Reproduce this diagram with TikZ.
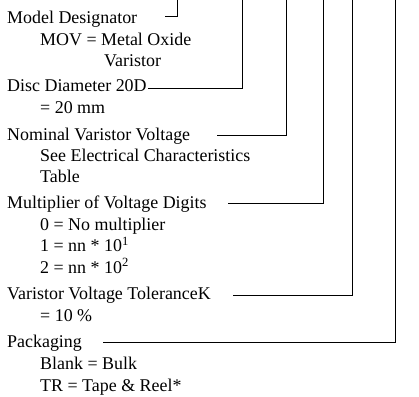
\documentclass[tikz,border=0pt]{standalone}
\usepackage{fontspec}
\setmainfont{Liberation Serif}

\begin{document}
\begin{tikzpicture}[
        x=1bp, y=-1bp,
        txt/.style={
        anchor=base west,
        inner sep=0pt,
        font=\fontsize{18}{21}\selectfont},
        lead/.style={draw=black, line width=0.8pt},
        ]

        \useasboundingbox (0,0) rectangle (419,397);

        % field texts
        \node (md)  [txt] at (7,23.5)  {Model Designator};
        \node (md1) [txt] at (40,45)   {MOV = Metal Oxide};
        \node (md2) [txt] at (104,66.5){Varistor};

        \node (dd)  [txt] at (7,91.5)  {Disc Diameter 20D};
        \node (dd1) [txt] at (40,113)  {= 20 mm};

        \node (nv)  [txt] at (7,140)   {Nominal Varistor Voltage};
        \node (nv1) [txt] at (40,161)  {See Electrical Characteristics};
        \node (nv2) [txt] at (40,182)  {Table};

        \node (mu)  [txt] at (7,208)   {Multiplier of Voltage Digits};
        \node (mu1) [txt] at (40,230)  {0 = No multiplier};
        \node (mu2) [txt] at (40,251.5){1 = nn * 10\textsuperscript{1}};
        \node (mu3) [txt] at (40,273)  {2 = nn * 10\textsuperscript{2}};

        \node (vt)  [txt] at (7,299)   {Varistor Voltage ToleranceK};
        \node (vt1) [txt] at (40,321)  {= 10 \%};

        \node (pk)  [txt] at (7,347)   {Packaging};
        \node (pk1) [txt] at (40,369)  {Blank = Bulk};
        \node (pk2) [txt] at (40,391)  {TR = Tape \& Reel*};

        % leader lines up to the part number
        \coordinate (s1) at (165,16.7);   \coordinate (t1) at (177,0);
        \coordinate (s2) at (148,88.3);   \coordinate (t2) at (242,0);
        \coordinate (s3) at (217,135);    \coordinate (t3) at (286,0);
        \coordinate (s4) at (228,203.3);  \coordinate (t4) at (323.3,0);
        \coordinate (s5) at (233,295.7);  \coordinate (t5) at (352.7,0);
        \coordinate (s6) at (103,342.7);  \coordinate (t6) at (395.7,0);

        \draw [lead] (s1) -| (t1) (s2) -| (t2) (s3) -| (t3);
        \draw [lead] (s4) -| (t4) (s5) -| (t5) (s6) -| (t6);
\end{tikzpicture}
\end{document}
